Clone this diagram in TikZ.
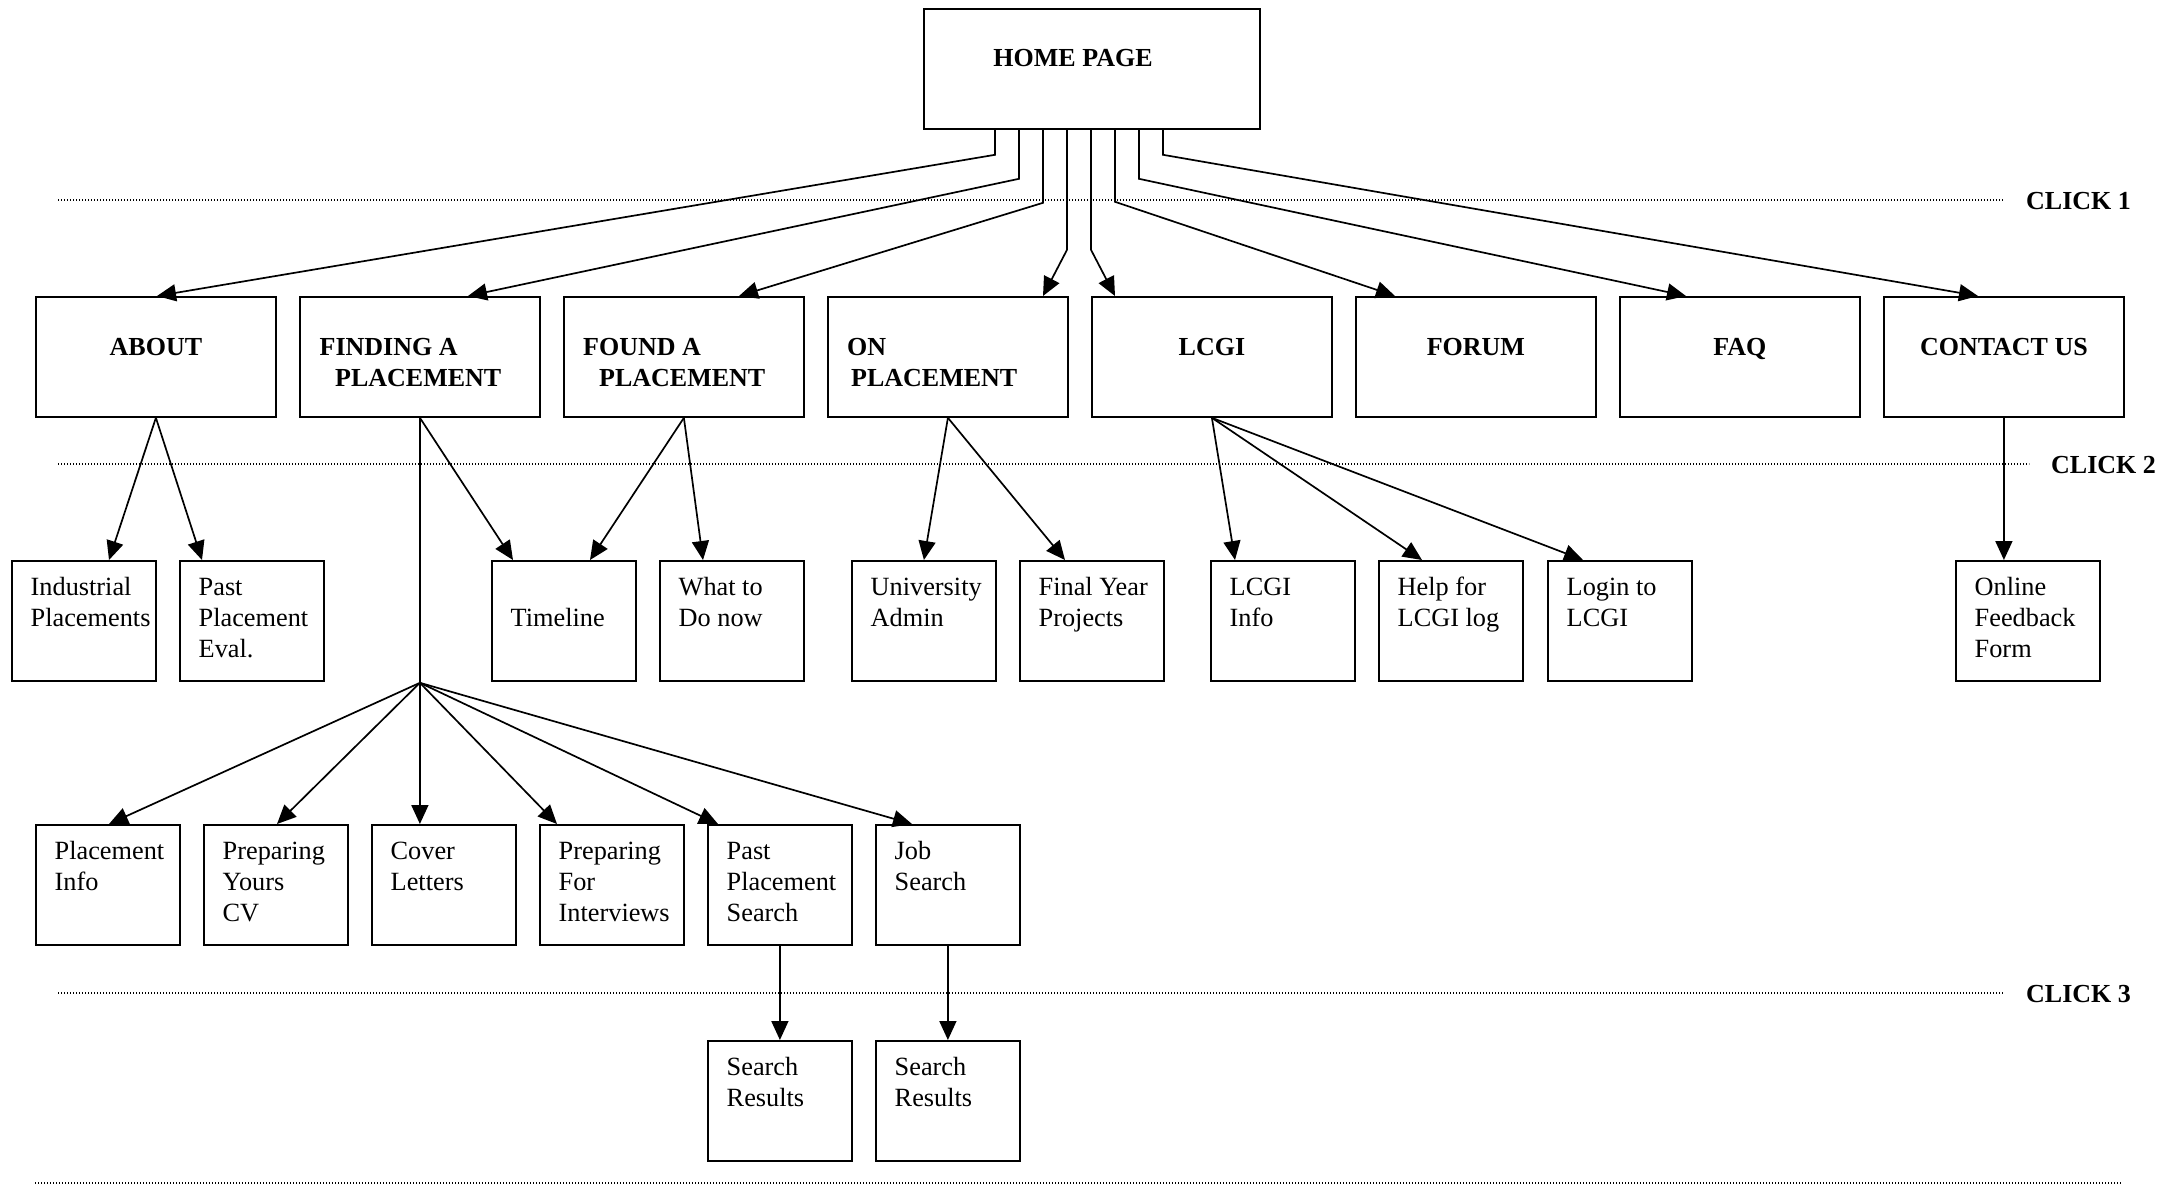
\documentclass[tikz,border=0pt]{standalone}
\usepackage{fontspec}
\setmainfont{Liberation Serif}
\usetikzlibrary{arrows.meta,calc}

\begin{document}
\begin{tikzpicture}[x=1pt,y=-1pt,
  box/.style={draw, line width=1.8pt, rectangle, inner sep=0pt, anchor=north west},
  homebox/.style={box, minimum width=336pt, minimum height=120pt},
  topbox/.style={box, minimum width=240pt, minimum height=120pt},
  pagebox/.style={box, minimum width=144pt, minimum height=120pt},
  txt/.style={inner sep=0pt, anchor=north west, align=left,
    font=\fontsize{26.3}{31}\selectfont},
  head/.style={inner sep=0pt, anchor=base,
    font=\bfseries\fontsize{26}{31}\selectfont},
  headml/.style={inner sep=0pt, anchor=north west, align=left,
    font=\bfseries\fontsize{26}{31}\selectfont},
  clicklbl/.style={inner sep=0pt, anchor=base west,
    font=\bfseries\fontsize{26}{31}\selectfont},
  conn/.style={line width=1.7pt, -{Triangle[length=19pt,width=17pt]}},
  plain/.style={line width=1.7pt},
  sep/.style={line width=1.2pt, dash pattern=on 1.3pt off 1.7pt},
]
\useasboundingbox (0,0) rectangle (2174,1186);

% ---------- level separators ----------
\node[clicklbl] (click1) at (2026,209) {CLICK 1};
\node[clicklbl] (click2) at (2051,473) {CLICK 2};
\node[clicklbl] (click3) at (2026,1002) {CLICK 3};
\draw[sep] (58,200) -- (2004,200);
\draw[sep] (58,464) -- (2029,464);
\draw[sep] (58,993) -- (2004,993);
\draw[sep] (35,1183) -- (2122,1183);

% ---------- home page ----------
\node[homebox] (home) at (923,8) {};
\node[head] (homet) at (1073,66.7) {HOME PAGE};

% ---------- first level ----------
\node[topbox] (about)   at (35,296)   {};
\node[topbox] (finding) at (299,296)  {};
\node[topbox] (found)   at (563,296)  {};
\node[topbox] (onpl)    at (827,296)  {};
\node[topbox] (lcgi)    at (1091,296) {};
\node[topbox] (forum)   at (1355,296) {};
\node[topbox] (faq)     at (1619,296) {};
\node[topbox] (contact) at (1883,296) {};

\node[head] (aboutt)   at ($(about.north)+(0,59.5)$)   {ABOUT};
\node[headml] (findingt) at ($(finding.north west)+(20.5,37.8)$)
  {\strut FINDING A\\\strut\hspace*{15.5pt}PLACEMENT};
\node[headml] (foundt) at ($(found.north west)+(20,37.8)$)
  {\strut FOUND A\\\strut\hspace*{16pt}PLACEMENT};
\node[headml] (onplt) at ($(onpl.north west)+(20,37.8)$)
  {\strut ON\\\strut\hspace*{4pt}PLACEMENT};
\node[head] (lcgit)    at ($(lcgi.north)+(0,59.5)$)    {LCGI};
\node[head] (forumt)   at ($(forum.north)+(0,59.5)$)   {FORUM};
\node[head] (faqt)     at ($(faq.north)+(0,59.5)$)     {FAQ};
\node[head] (contactt) at ($(contact.north)+(0,59.5)$) {CONTACT US};

% ---------- second level ----------
\node[pagebox] (ind) at (11,560)   {};
\node[pagebox] (pev) at (179,560)  {};
\node[pagebox] (tml) at (491,560)  {};
\node[pagebox] (wtd) at (659,560)  {};
\node[pagebox] (uad) at (851,560)  {};
\node[pagebox] (fyp) at (1019,560) {};
\node[pagebox] (lin) at (1210,560) {};
\node[pagebox] (hlp) at (1378,560) {};
\node[pagebox] (lgn) at (1547,560) {};
\node[pagebox] (off) at (1955,560) {};

\node[txt] (indt) at ($(ind.north west)+(19.5,13.3)$) {\strut Industrial\\\strut Placements};
\node[txt] (pevt) at ($(pev.north west)+(19.5,13.3)$) {\strut Past\\\strut Placement\\\strut Eval.};
\node[txt] (tmlt) at ($(tml.north west)+(19.5,13.3)$) {\strut\\\strut Timeline};
\node[txt] (wtdt) at ($(wtd.north west)+(19.5,13.3)$) {\strut What to\\\strut Do now};
\node[txt] (uadt) at ($(uad.north west)+(19.5,13.3)$) {\strut University\\\strut Admin};
\node[txt] (fypt) at ($(fyp.north west)+(19.5,13.3)$) {\strut Final Year\\\strut Projects};
\node[txt] (lint) at ($(lin.north west)+(19.5,13.3)$) {\strut LCGI\\\strut Info};
\node[txt] (hlpt) at ($(hlp.north west)+(19.5,13.3)$) {\strut Help for\\\strut LCGI log};
\node[txt] (lgnt) at ($(lgn.north west)+(19.5,13.3)$) {\strut Login to\\\strut LCGI};
\node[txt] (offt) at ($(off.north west)+(19.5,13.3)$) {\strut Online\\\strut Feedback\\\strut Form};

% ---------- third level ----------
\node[pagebox] (pinf) at (35,824)  {};
\node[pagebox] (pcv)  at (203,824) {};
\node[pagebox] (cov)  at (371,824) {};
\node[pagebox] (pint) at (539,824) {};
\node[pagebox] (pps)  at (707,824) {};
\node[pagebox] (jobs) at (875,824) {};

\node[txt] (pinft) at ($(pinf.north west)+(19.5,13.3)$) {\strut Placement\\\strut Info};
\node[txt] (pcvt)  at ($(pcv.north west)+(19.5,13.3)$)  {\strut Preparing\\\strut Yours\\\strut CV};
\node[txt] (covt)  at ($(cov.north west)+(19.5,13.3)$)  {\strut Cover\\\strut Letters};
\node[txt] (pintt) at ($(pint.north west)+(19.5,13.3)$) {\strut Preparing\\\strut For\\\strut Interviews};
\node[txt] (ppst)  at ($(pps.north west)+(19.5,13.3)$)  {\strut Past\\\strut Placement\\\strut Search};
\node[txt] (jobst) at ($(jobs.north west)+(19.5,13.3)$) {\strut Job\\\strut Search};

% ---------- fourth level ----------
\node[pagebox] (sr1) at (707,1040) {};
\node[pagebox] (sr2) at (875,1040) {};
\node[txt] (sr1t) at ($(sr1.north west)+(19.5,13.3)$) {\strut Search\\\strut Results};
\node[txt] (sr2t) at ($(sr2.north west)+(19.5,13.3)$) {\strut Search\\\strut Results};

% ---------- home page links ----------
\draw[conn] ($(home.south west)+(72,0)$)  -- ++(0,25)  -- ($(about.north west)+(122,0)$);
\draw[conn] ($(home.south west)+(96,0)$)  -- ++(0,49)  -- ($(finding.north west)+(169,0)$);
\draw[conn] ($(home.south west)+(120,0)$) -- ++(0,73)  -- ($(found.north west)+(176,0)$);
\draw[conn] ($(home.south west)+(144,0)$) -- ++(0,120) -- ($(onpl.north west)+(216,0)$);
\draw[conn] ($(home.south west)+(168,0)$) -- ++(0,120) -- ($(lcgi.north west)+(24,0)$);
\draw[conn] ($(home.south west)+(192,0)$) -- ++(0,72)  -- ($(forum.north west)+(40,0)$);
\draw[conn] ($(home.south west)+(216,0)$) -- ++(0,49)  -- ($(faq.north west)+(67,0)$);
\draw[conn] ($(home.south west)+(240,0)$) -- ++(0,25)  -- ($(contact.north west)+(95,0)$);

% ---------- second level links ----------
\draw[conn] (about.south) -- ($(ind.north west)+(98,0)$);
\draw[conn] (about.south) -- ($(pev.north west)+(23,0)$);
\draw[conn] (finding.south) -- ($(tml.north west)+(22,0)$);
\draw[conn] (found.south) -- ($(tml.north west)+(99,0)$);
\draw[conn] (found.south) -- ($(wtd.north west)+(44,0)$);
\draw[conn] (onpl.south) -- (uad.north);
\draw[conn] (onpl.south) -- ($(fyp.north west)+(46,0)$);
\draw[conn] (lcgi.south) -- ($(lin.north west)+(25,0)$);
\draw[conn] (lcgi.south) -- ($(hlp.north west)+(44,0)$);
\draw[conn] (lcgi.south) -- ($(lgn.north west)+(36,0)$);
\draw[conn] (contact.south) -- (contact.south |- off.north);

% ---------- finding a placement fan ----------
\coordinate (fan) at ($(finding.south)+(0,265)$);
\draw[plain] (finding.south) -- (fan);
\draw[conn] (fan) -- ($(pinf.north west)+(74,0)$);
\draw[conn] (fan) -- ($(pcv.north west)+(74,0)$);
\draw[conn] (fan) -- (fan |- cov.north);
\draw[conn] (fan) -- ($(pint.north west)+(18,0)$);
\draw[conn] (fan) -- ($(pps.north west)+(11,0)$);
\draw[conn] (fan) -- ($(jobs.north west)+(37,0)$);

% ---------- search results ----------
\draw[conn] (pps.south) -- (sr1.north);
\draw[conn] (jobs.south) -- (sr2.north);
\end{tikzpicture}
\end{document}
